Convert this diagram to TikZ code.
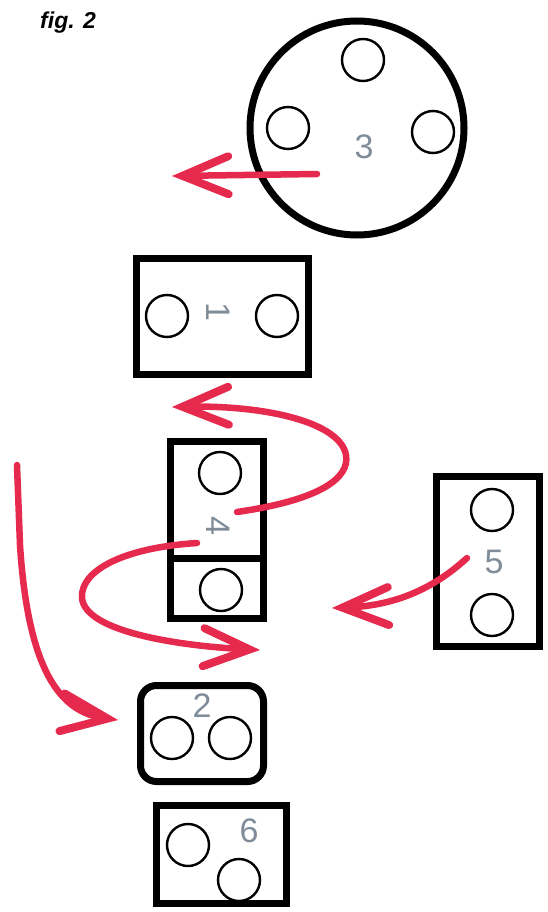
\documentclass[tikz,border=0pt]{standalone}
\usepackage{fontspec}
\setmainfont{Liberation Sans}
\usetikzlibrary{arrows.meta}
\definecolor{markred}{RGB}{230,42,78}
\definecolor{labelgray}{RGB}{128,140,152}
\tikzset{
  part/.style={draw=black, line width=7pt, rectangle, inner sep=0pt},
  hole/.style={draw=black, line width=2.4pt, circle, minimum size=42pt, inner sep=0pt},
  partno/.style={text=labelgray, font=\fontsize{34}{34}\selectfont, inner sep=0pt},
  move/.style={draw=markred, line width=6.5pt, line cap=round,
    -{Straight Barb[length=46pt,width=38pt,line width=8pt,line cap=round]}},
}
\begin{document}
\begin{tikzpicture}[x=1pt,y=-1pt]
\path[use as bounding box, fill=white] (0,0) rectangle (548,912);

% title
\node[anchor=base west, inner sep=0pt, font=\fontsize{23}{23}\selectfont\bfseries\itshape] (title) at (40,29) {fig. 2};

% part 3: round plate with three holes
\node[draw=black, line width=7pt, circle, minimum size=214pt, inner sep=0pt] (p3) at (357,128) {};
\node[hole] (p3a) at (363,60) {};
\node[hole] (p3b) at (288,128) {};
\node[hole] (p3c) at (433,132) {};
\node[partno] (n3) at (364,147) {3};

% part 1
\node[part, minimum width=172pt, minimum height=116pt] (p1) at (222.5,316.5) {};
\node[hole] (p1a) at (167,316) {};
\node[hole] (p1b) at (277,316) {};
\node[partno, rotate=-90] (n1) at (218,312) {1};

% part 4: two stacked cells
\node[part, minimum width=93pt, minimum height=116.5pt] (p4top) at (217,499.75) {};
\node[part, minimum width=93pt, minimum height=60.5pt] (p4bot) at (217,588.25) {};
\node[hole] (p4a) at (220,473) {};
\node[hole] (p4b) at (221,590) {};
\node[partno, rotate=-90] (n4) at (218,526) {4};

% part 5
\node[part, minimum width=103pt, minimum height=170pt] (p5) at (488,561.5) {};
\node[hole] (p5a) at (492,510) {};
\node[hole] (p5b) at (492,615) {};
\node[partno] (n5) at (494,562) {5};

% part 2: rounded plate
\node[part, rounded corners=16pt, minimum width=123pt, minimum height=96pt] (p2) at (202,733.5) {};
\node[hole] (p2a) at (172,738) {};
\node[hole] (p2b) at (230,738) {};
\node[partno] (n2) at (202,706) {2};

% part 6
\node[part, minimum width=130pt, minimum height=97.5pt] (p6) at (221.5,854.25) {};
\node[hole] (p6a) at (188,845) {};
\node[hole] (p6b) at (239,880) {};
\node[partno] (n6) at (249,831) {6};

% ends of the red movement strokes
\coordinate (m3s) at (317,174);
\coordinate (m3e) at (172,176);
\coordinate (m4s) at (237,512);
\coordinate (m4e) at (172,407);
\coordinate (mbs) at (197,543);
\coordinate (mbe) at (260,650);
\coordinate (m5s) at (467,558);
\coordinate (m5e) at (332,608);
\coordinate (mls) at (17,465);
\coordinate (mle) at (118,720);

% red movement strokes
\draw[move] (m3s) -- (m3e);
\draw[move] (m4s) .. controls (320,500) and (350,478) .. (346,455)
                  .. controls (340,422) and (265,405) .. (m4e);
\draw[move] (mbs) .. controls (120,548) and (80,572) .. (82,598)
                  .. controls (85,632) and (180,646) .. (mbe);
\draw[move] (m5s) .. controls (430,592) and (390,606) .. (m5e);
\draw[move] (mls) -- (20,545) .. controls (28,670) and (60,712) .. (mle);
\end{tikzpicture}
\end{document}
